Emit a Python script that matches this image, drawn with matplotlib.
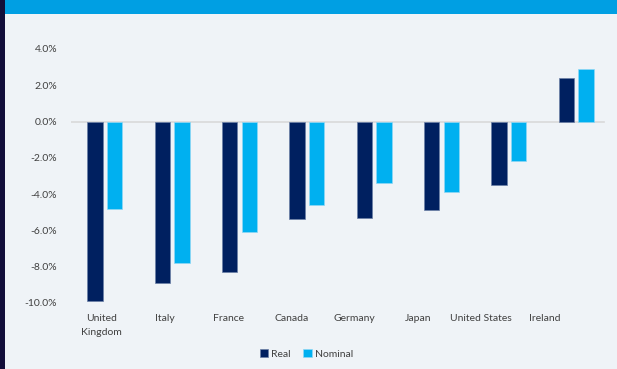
import numpy as np
import matplotlib.pyplot as plt
from matplotlib.patches import Rectangle

countries = ['United\nKingdom', 'Italy', 'France', 'Canada', 'Germany',
             'Japan', 'United States', 'Ireland']
real = [-9.9, -8.9, -8.3, -5.4, -5.3, -4.9, -3.5, 2.4]
nominal = [-4.8, -7.8, -6.1, -4.6, -3.4, -3.9, -2.2, 2.9]
yticks = [4, 2, 0, -2, -4, -6, -8, -10]

bg = '#EFF3F7'
text_col = '#404040'
plt.rcParams['font.family'] = ['Lato', 'DejaVu Sans']

fig = plt.figure(figsize=(6.17, 3.69), dpi=100)
fig.patch.set_facecolor(bg)

# top band and left strip
fig.add_artist(Rectangle((0, 1 - 14 / 369), 1, 14 / 369, transform=fig.transFigure,
                         facecolor='#009FE3', edgecolor='none', zorder=0))
fig.add_artist(Rectangle((0, 0), 5 / 617, 1, transform=fig.transFigure,
                         facecolor='#120E3A', edgecolor='none', zorder=1))

ax = fig.add_axes([71 / 617, (369 - 302.8) / 369, 539 / 617, 253.8 / 369])
ax.set_facecolor(bg)

x = np.arange(len(countries))
w = 0.228
off = 0.145
ax.bar(x - off, real, w, color='#002060', edgecolor='#6B7FA6', linewidth=0.5,
       label='Real', zorder=3)
ax.bar(x + off, nominal, w, color='#00B0F0', edgecolor='#8FD8F5', linewidth=0.5,
       label='Nominal', zorder=3)
ax.axhline(0, xmin=0, xmax=0.989, color='#D9D9D9', linewidth=1.2, zorder=2)

ax.set_xlim(-0.5, len(countries) - 0.5)
ax.set_ylim(-10, 4)
ax.set_yticks(yticks)
ax.set_yticklabels([f'{v:.1f}%' for v in yticks])

# category labels sit a little left of the bar groups, as in the source
ax.set_xticks(-0.045 + x * 0.939)
ax.set_xticklabels(countries, linespacing=1.7)

ax.tick_params(axis='both', length=0, labelsize=7.5, colors=text_col)
ax.tick_params(axis='y', pad=10)
ax.tick_params(axis='x', pad=8)
for s in ax.spines.values():
    s.set_visible(False)

fig.legend(loc='center', bbox_to_anchor=(306.5 / 617, 1 - 354 / 369), ncol=2,
           frameon=False, fontsize=7.5, labelcolor=text_col, handlelength=0.8,
           handleheight=0.8, handletextpad=0.3, columnspacing=1.2)

fig.savefig('out.png', dpi=100, facecolor=bg)
